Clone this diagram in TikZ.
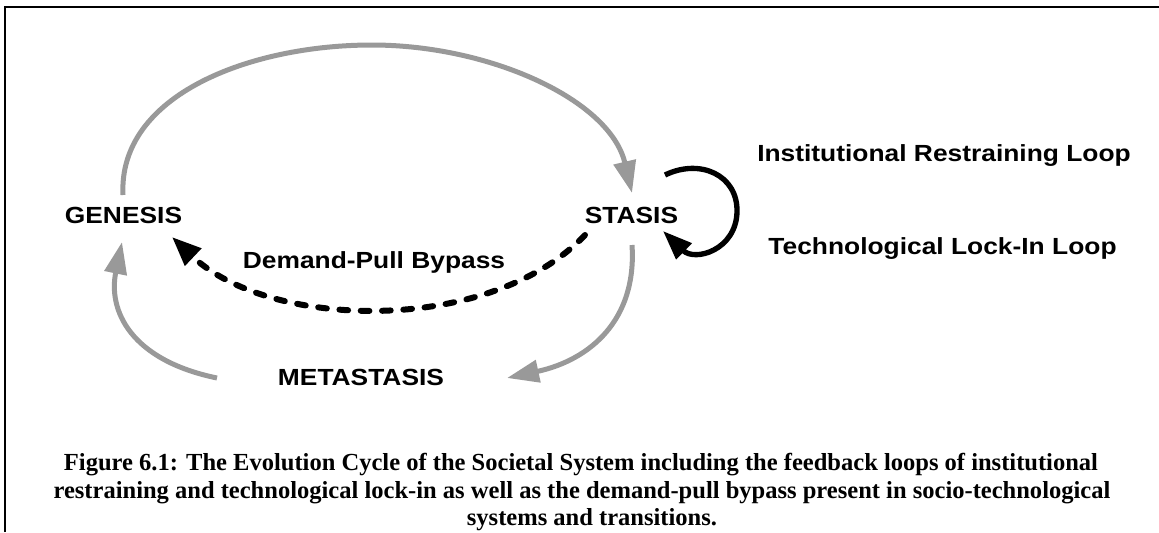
\documentclass[tikz,border=0pt]{standalone}
\usepackage{fontspec}
\usepackage{graphicx}
\setmainfont{Liberation Serif}
\setsansfont{Liberation Sans}
\usetikzlibrary{arrows.meta}
\definecolor{arrowgray}{HTML}{999999}
\newcommand{\widetext}[1]{\scalebox{1.13}[1]{#1}}
\tikzset{
  lbl/.style={font=\sffamily\bfseries\fontsize{17.5pt}{21pt}\selectfont, anchor=base, inner sep=0pt},
  grayarrow/.style={draw=arrowgray, line width=3.75pt, -{Triangle[length=24pt,width=16.5pt]}},
  loopedge/.style={draw=black, line width=4pt, -{Triangle[length=22pt,width=16pt]}},
  bypass/.style={draw=black, line width=4.5pt, line cap=round, dash pattern=on 6.5pt off 9.5pt, -{Triangle[length=22pt,width=17pt]}},
  captext/.style={font=\rmfamily\bfseries\fontsize{18.4pt}{22pt}\selectfont, anchor=base, inner sep=0pt}
}
\begin{document}
\begin{tikzpicture}[x=0.75pt,y=-0.75pt]
\useasboundingbox (0,0) rectangle (1159,532);
% frame
\draw[line width=2pt] (5,532) -- (5,7) -- (1159,7);

% labels
\node[lbl] (genesis) at (123.5,223) {\widetext{GENESIS}};
\node[lbl] (stasis) at (631.5,223) {\widetext{STASIS}};
\node[lbl] (metastasis) at (361,385) {\widetext{METASTASIS}};
\node[lbl] (bypasslbl) at (374,268) {\widetext{Demand-Pull Bypass}};
\node[lbl] (irl) at (944,161) {\widetext{Institutional Restraining Loop}};
\node[lbl] (tli) at (942.5,254) {\widetext{Technological Lock-In Loop}};

% connector end points
\coordinate (gtop) at (123,195);
\coordinate (stop) at (632,193);
\coordinate (sbot) at (632,245);
\coordinate (mright) at (507,378);
\coordinate (mleft) at (217,378);
\coordinate (gbot) at (122,242);
\coordinate (sleft) at (585,235);
\coordinate (gright) at (172,237);
\coordinate (loopa) at (665,175);
\coordinate (loopb) at (663,231);

% cycle
\draw[grayarrow] (gtop) .. controls (118,95) and (250,45) .. (372,45)
                        .. controls (490,45) and (610,100) .. (stop);
\draw[grayarrow] (sbot) .. controls (637,320) and (590,360) .. (mright);
\draw[grayarrow] (mleft) .. controls (130,360) and (108,310) .. (gbot);
% bypass
\draw[bypass] (sleft) .. controls (490,335) and (270,330) .. (gright);
% loop
\draw[loopedge] (loopa) .. controls (700,158) and (738,175) .. (737,212)
                        .. controls (736,250) and (695,262) .. (loopb);

% caption
\node[captext] (cap1) at (581,470) {Figure 6.1: The Evolution Cycle of the Societal System including the feedback loops of institutional};
\node[captext] (cap2) at (582,498) {restraining and technological lock-in as well as the demand-pull bypass present in socio-technological};
\node[captext] (cap3) at (592,525) {systems and transitions.};
\end{tikzpicture}
\end{document}
